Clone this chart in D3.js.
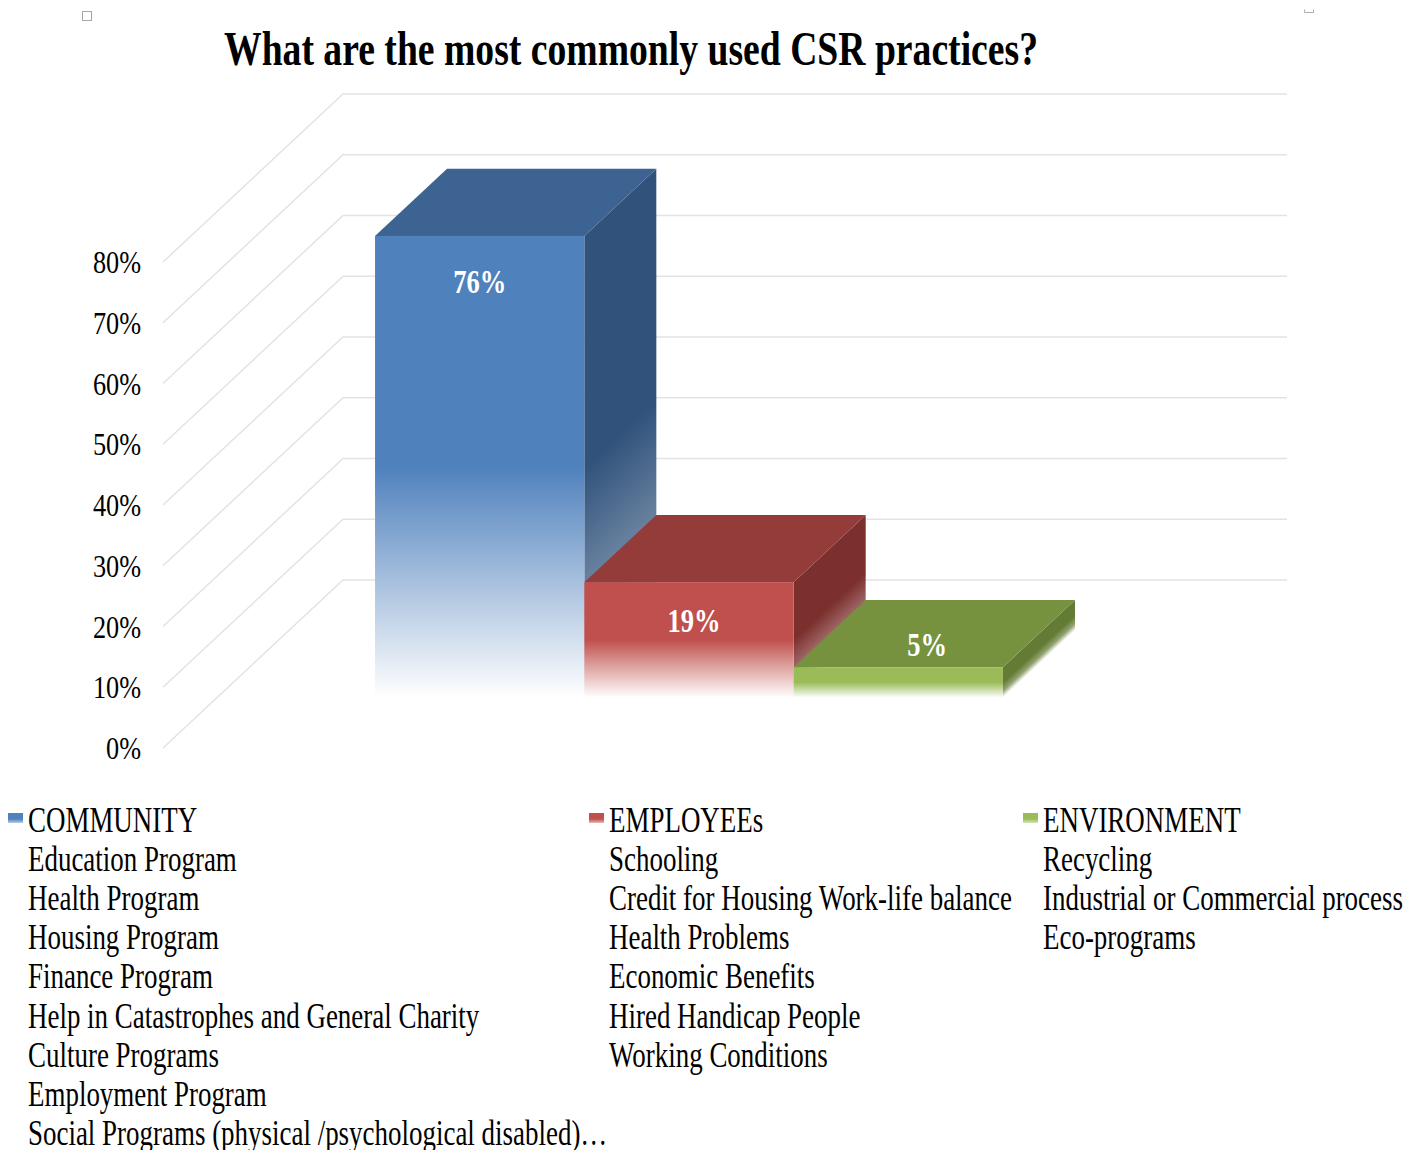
<!DOCTYPE html>
<html>
<head>
<meta charset="utf-8">
<script src="https://cdn.jsdelivr.net/npm/d3@7"></script>
<style>
  body { margin: 0; background: #ffffff; }
  svg { display: block; }
</style>
</head>
<body>
<script>
// ---- data ----
const seriesNames = ["COMMUNITY", "EMPLOYEEs", "ENVIRONMENT"];
const seriesValues = [0.76, 0.19, 0.05];
const seriesColors = ["#4f81bd", "#c0504d", "#9bbb59"];
const topColors = ["#3d6392", "#943c3a", "#77923f"];
const sideColors = ["#30527b", "#7b302e", "#637b34"];
const yTickValues = [0, 0.1, 0.2, 0.3, 0.4, 0.5, 0.6, 0.7, 0.8];
const communityItems = [
  "Education Program", "Health Program", "Housing Program", "Finance Program",
  "Help in Catastrophes and General Charity", "Culture Programs",
  "Employment Program", "Social Programs (physical /psychological disabled)\u2026"
];
const employeeItems = [
  "Schooling", "Credit for Housing Work-life balance", "Health Problems",
  "Economic Benefits", "Hired Handicap People", "Working Conditions"
];
const environmentItems = ["Recycling", "Industrial or Commercial process", "Eco-programs"];
const legendItems = [communityItems, employeeItems, environmentItems];
const titleText = "What are the most commonly used CSR practices?";

// ---- layout ----
const W = 1421, H = 1150;
const svg = d3.select("body").append("svg").attr("width", W).attr("height", H);
const defs = svg.append("defs");
const serif = "'Liberation Serif', 'Times New Roman', serif";

// oblique 3D projection: x in front plane, value v, depth u in [0,1]
const floorY = 748, wallX = 163, wallW = 944;
const depth = { dx: 180, dy: -168 };
const y = d3.scaleLinear().domain([0, 0.8]).range([0, 486]);
const x = d3.scaleBand().domain(seriesNames)
  .range([wallX, wallX + wallW]).paddingInner(0).paddingOuter(0.755);
const barU0 = 0.30, barU1 = 0.70;
const proj = (px, v, u) => [px + depth.dx * u, floorY - y(v) + depth.dy * u];

// condensed serif text: natural width scaled by sx
function addText(g, str, px, py, size, sx, opts = {}) {
  const t = g.append("text")
    .attr("x", px).attr("y", py)
    .attr("font-family", serif)
    .attr("font-size", size)
    .attr("font-weight", opts.weight || "normal")
    .attr("fill", opts.fill || "#000")
    .attr("text-anchor", opts.anchor || "start")
    .text(str);
  const len = t.node().getComputedTextLength();
  t.attr("textLength", opts.length || len * sx).attr("lengthAdjust", "spacingAndGlyphs");
  return t;
}

// frame handles
svg.append("rect").attr("x", 82.5).attr("y", 11.5).attr("width", 9).attr("height", 9)
  .attr("fill", "none").attr("stroke", "#a6a6a6").attr("stroke-width", 1);
svg.append("path").attr("d", "M1304.5,9.5v3h9v-3").attr("fill", "none")
  .attr("stroke", "#b0b0b0").attr("stroke-width", 1);

// title
addText(svg, titleText, 631, 65, 48, 0.75, { weight: "bold", anchor: "middle", length: 814 });

// walls: gridlines on side wall and back wall
const grid = svg.append("g");
grid.selectAll("path").data(yTickValues).join("path")
  .attr("d", v => d3.line()([proj(wallX, v, 0), proj(wallX, v, 1), proj(wallX + wallW, v, 1)]))
  .attr("fill", "none").attr("stroke", "#e3e3e3").attr("stroke-width", 1.5);

// y axis labels
const axis = svg.append("g");
yTickValues.forEach(v => {
  addText(axis, d3.format(".0%")(v), 141, proj(wallX, v, 0)[1] + 11, 32, 0.82, { anchor: "end" });
});

// gradients
function vGrad(id, color, stops) {
  const g = defs.append("linearGradient").attr("id", id)
    .attr("x1", 0).attr("y1", 0).attr("x2", 0).attr("y2", 1);
  stops.forEach(([o, c]) => g.append("stop").attr("offset", o).attr("stop-color", c));
}
const mixW = (c, t) => d3.interpolateRgb(c, "#ffffff")(t);
seriesNames.forEach((n, i) => {
  vGrad("front" + i, seriesColors[i], [[0, seriesColors[i]], [0.5, seriesColors[i]], [0.75, mixW(seriesColors[i], 0.5)], [1, "#ffffff"]]);
  vGrad("side" + i, sideColors[i], [[0, sideColors[i]], [0.5, sideColors[i]], [0.78, mixW(sideColors[i], 0.3)], [1, "#ffffff"]]);
  vGrad("key" + i, seriesColors[i], [[0, seriesColors[i]], [0.6, seriesColors[i]], [1, mixW(seriesColors[i], 0.6)]]);
});

// bars, drawn left to right so nearer faces overlap
const bars = svg.append("g");
const ddx = depth.dx * (barU1 - barU0), ddy = depth.dy * (barU1 - barU0);
seriesNames.forEach((name, i) => {
  const v = seriesValues[i];
  const x0 = x(name), w = x.bandwidth();
  const [fx0, fTop] = proj(x0, v, barU0);
  const [fx1, fBase] = proj(x0 + w, 0, barU0);
  const g = bars.append("g");
  // right side face (sheared)
  g.append("g").attr("transform", `matrix(${ddx},${ddy},0,1,${fx1},0)`)
    .append("rect").attr("x", 0).attr("y", fTop).attr("width", 1).attr("height", fBase - fTop)
    .attr("fill", `url(#side${i})`);
  // top face (sheared)
  g.append("g").attr("transform", `matrix(1,0,${ddx},${ddy},0,${fTop})`)
    .append("rect").attr("x", fx0).attr("y", 0).attr("width", fx1 - fx0).attr("height", 1)
    .attr("fill", topColors[i]);
  // front face
  g.append("rect").attr("x", fx0).attr("y", fTop).attr("width", fx1 - fx0).attr("height", fBase - fTop)
    .attr("fill", `url(#front${i})`);
  // value label: on front face if tall enough, else on top face
  const fh = fBase - fTop;
  let lx, ly;
  if (fh > 60) {
    lx = (fx0 + fx1) / 2 + (i === 0 ? 0 : 5);
    ly = fTop + Math.min(45, fh * 0.33) + 12;
  } else {
    lx = (fx0 + fx1) / 2 + ddx * 0.4;
    ly = fTop + ddy * 0.35 + 12;
  }
  addText(g, d3.format(".0%")(v), lx, ly, 34, 0.78, { weight: "bold", fill: "#ffffff", anchor: "middle" });
});

// legend
const legend = svg.append("g");
const legendX = [28, 609, 1043];
const legendY0 = 832, legendStep = 39.1;
seriesNames.forEach((name, i) => {
  legend.append("rect").attr("x", legendX[i] - 20).attr("y", legendY0 - 19)
    .attr("width", 15).attr("height", 10).attr("fill", `url(#key${i})`);
  [name].concat(legendItems[i]).forEach((line, j) => {
    addText(legend, line, legendX[i], legendY0 + j * legendStep, 35, 0.77);
  });
});
</script>
</body>
</html>
